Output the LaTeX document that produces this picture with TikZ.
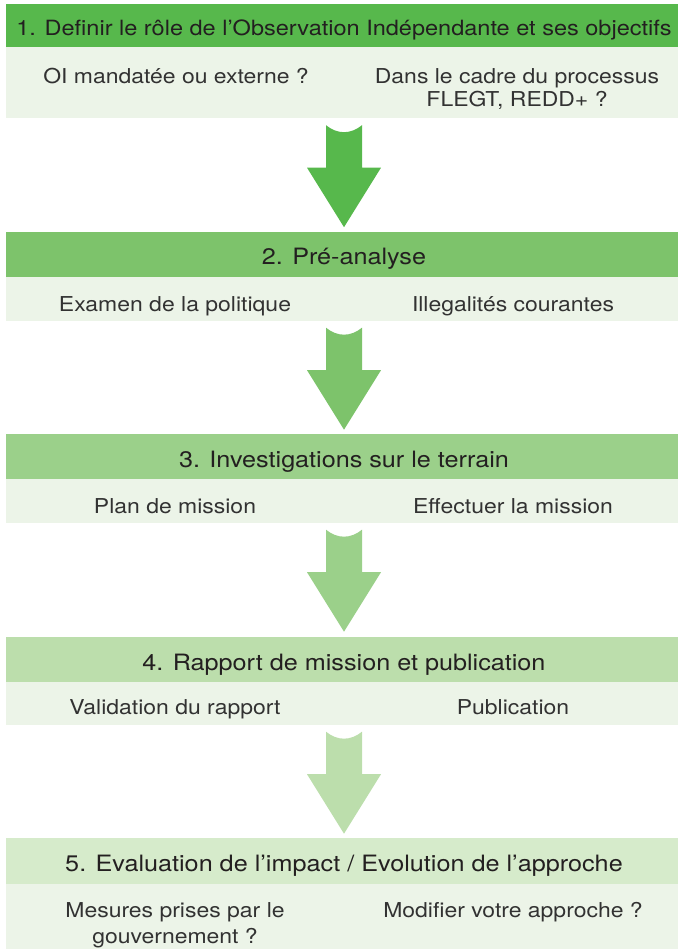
\documentclass[tikz,border=0pt]{standalone}
\usepackage{fontspec}
\setmainfont{TeX Gyre Heros}[FakeStretch=1.12]

\definecolor{vertun}{RGB}{87,184,76}
\definecolor{vertdeux}{RGB}{125,195,107}
\definecolor{verttrois}{RGB}{155,208,138}
\definecolor{vertquatre}{RGB}{188,222,172}
\definecolor{vertcinq}{RGB}{214,235,203}
\definecolor{vertpale}{RGB}{236,244,232}
\definecolor{texteentete}{RGB}{35,31,32}
\definecolor{textecorps}{RGB}{50,50,50}

\tikzset{
	entete/.style={rectangle,inner sep=0pt,minimum width=676pt,minimum height=45pt,text height=26pt,text depth=5pt,text=texteentete,font=\fontsize{22.5}{27}\selectfont},
	corps/.style={rectangle,inner sep=0pt,minimum width=676pt,minimum height=44pt,fill=vertpale},
	texte/.style={anchor=base,inner sep=0pt,align=center,text=textecorps,font=\fontsize{20.5}{23}\selectfont},
	fleche/.pic={\fill (-18,0) .. controls (-6.7,9.3) and (6.7,9.3) .. (18,0) -- (18,42.5) -- (37,42.5) -- (0,102) -- (-37,42.5) -- (-18,42.5) -- cycle;}
}

\begin{document}
\begin{tikzpicture}[x=1pt,y=-1pt]
		\useasboundingbox (0,0) rectangle (677,949);
		
		\node[entete,fill=vertun,minimum height=43pt,font=\fontsize{21}{25}\selectfont] (entete1) at (344,25.5) {1. Definir le rôle de l’Observation Indépendante et ses objectifs};
		\node[corps,minimum height=71.5pt] (corps1) at (344,82.75) {};
		\node[texte] (gauche1) at (176,84) {OI mandatée ou externe ?};
		\node[texte] (droite1) at (517,107) {Dans le cadre du processus\\FLEGT, REDD+ ?};
		
		\pic[fill=vertun] at ([yshift=-6.5pt]corps1.south) {fleche};
		
		\node[entete,fill=vertdeux] (entete2) at (344,254.5) {2. Pré-analyse};
		\node[corps] (corps2) at (344,299) {};
		\node[texte] (gauche2) at (175,311) {Examen de la politique};
		\node[texte] (droite2) at (513,311) {Illegalités courantes};
		
		\pic[fill=vertdeux] at ([yshift=-6.5pt]corps2.south) {fleche};
		
		\node[entete,fill=verttrois] (entete3) at (344,456.5) {3. Investigations sur le terrain};
		\node[corps] (corps3) at (344,501) {};
		\node[texte] (gauche3) at (175,513) {Plan de mission};
		\node[texte] (droite3) at (513,513) {Effectuer la mission};
		
		\pic[fill=verttrois] at ([yshift=-6.5pt]corps3.south) {fleche};
		
		\node[entete,fill=vertquatre] (entete4) at (344,659.5) {4. Rapport de mission et publication};
		\node[corps,minimum height=43pt] (corps4) at (344,703.5) {};
		\node[texte] (gauche4) at (175,714) {Validation du rapport};
		\node[texte] (droite4) at (513,714) {Publication};
		
		\pic[fill=vertquatre] at ([yshift=-6.5pt]corps4.south) {fleche};
		
		\node[entete,fill=vertcinq,minimum height=46pt] (entete5) at (344,861) {5. Evaluation de l’impact / Evolution de l’approche};
		\node[corps,minimum height=65pt] (corps5) at (344,916.5) {};
		\node[texte] (gauche5) at (175,943) {Mesures prises par le\\[3pt]gouvernement ?};
		\node[texte] (droite5) at (513,917) {Modifier votre approche ?};
	\end{tikzpicture}
\end{document}
